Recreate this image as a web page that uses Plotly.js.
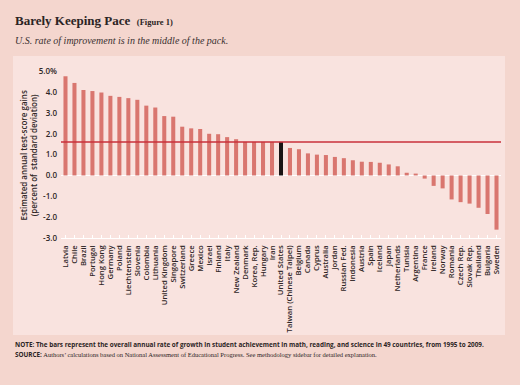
<!DOCTYPE html>
<html>
<head>
<meta charset="utf-8">
<script src="https://cdn.plot.ly/plotly-3.0.1.min.js"></script>
<style>
html,body{margin:0;padding:0;background:#f4d6ce;}
#chart{width:520px;height:385px;}
</style>
</head>
<body>
<div id="chart"></div>
<script>
const countries = ["Latvia","Chile","Brazil","Portugal","Hong Kong","Germany","Poland","Liechtenstein","Slovenia","Colombia","Lithuania","United Kingdom","Singapore","Switzerland","Greece","Mexico","Israel","Finland","Italy","New Zealand","Denmark","Korea, Rep.","Hungary","Iran","United States","Taiwan (Chinese Taipei)","Belgium","Canada","Cyprus","Australia","Jordan","Russian Fed.","Indonesia","Austria","Spain","Iceland","Japan","Netherlands","Tunisia","Argentina","France","Ireland","Norway","Romania","Czech Rep.","Slovak Rep.","Thailand","Bulgaria","Sweden"];
const gains = [4.76,4.44,4.10,4.05,3.98,3.82,3.77,3.71,3.63,3.35,3.26,2.85,2.82,2.34,2.26,2.23,2.00,1.98,1.84,1.74,1.61,1.61,1.61,1.61,1.61,1.32,1.26,1.06,1.00,0.98,0.89,0.83,0.73,0.66,0.65,0.61,0.53,0.44,0.13,0.09,-0.15,-0.50,-0.62,-1.15,-1.28,-1.35,-1.55,-1.85,-2.60];
const highlight = "United States";
const yTickVals = [-3,-2,-1,0,1,2,3,4,5];
const yTickText = ["-3.0","-2.0","-1.0","0.0","1.0","2.0","3.0","4.0","5.0%"];

const usValue = gains[countries.indexOf(highlight)];
const barColors = countries.map(c => c === highlight ? "#1a1414" : "#d9766f");

const L = 61, R = 19, T = 65, B = 147, W = 520, H = 385;
const pw = W - L - R, ph = H - T - B;
const px = x => (x - L) / pw;
const py = y => (H - B - y) / ph;

const sans = "Open Sans, sans-serif";
const serif = "Liberation Serif, serif";

const trace = {
  type: "bar",
  x: countries,
  y: gains,
  marker: {color: barColors},
  width: 0.45,
  hoverinfo: "x+y"
};

const layout = {
  width: W, height: H,
  margin: {l: L, r: R, t: T, b: B},
  paper_bgcolor: "#f4d6ce",
  plot_bgcolor: "rgba(0,0,0,0)",
  showlegend: false,
  xaxis: {
    type: "category",
    range: [-0.5, countries.length - 0.5],
    tickmode: "linear", tick0: 0, dtick: 1,
    tickangle: -90,
    tickfont: {family: sans, size: 7.7, color: "#2e2626", weight: 600},
    showgrid: false,
    showline: true, linecolor: "#ffffff", linewidth: 1.2,
    ticks: "inside", ticklen: 3, tickcolor: "#ffffff", tickwidth: 1,
    ticklabelstandoff: 3,
    anchor: "y", fixedrange: true
  },
  yaxis: {
    range: [-3, 5.3],
    tickvals: yTickVals, ticktext: yTickText,
    tickfont: {family: sans, size: 8, color: "#2e2626", weight: 600},
    showgrid: false,
    zeroline: true, zerolinecolor: "#ffffff", zerolinewidth: 1.5,
    ticks: "", ticklabelstandoff: 3,
    fixedrange: true
  },
  shapes: [
    {type: "rect", xref: "paper", yref: "paper", layer: "below",
     x0: px(13), x1: px(505), y0: py(335), y1: py(56),
     fillcolor: "#f9e3df", line: {width: 0}},
    {type: "line", xref: "paper", yref: "y", layer: "above",
     x0: 0, x1: 1, y0: usValue, y1: usValue,
     line: {color: "#c8313b", width: 1.5}}
  ],
  annotations: [
    {xref: "paper", yref: "paper", x: px(13), y: py(20), xanchor: "left", yanchor: "middle",
     showarrow: false, align: "left",
     text: "<b>Barely Keeping Pace</b>  <b><span style=\"font-size:8.5px\">(Figure 1)</span></b>",
     font: {family: serif, size: 13, color: "#2b2424"}},
    {xref: "paper", yref: "paper", x: px(13), y: py(40), xanchor: "left", yanchor: "middle",
     showarrow: false, align: "left",
     text: "<i>U.S. rate of improvement is in the middle of the pack.</i>",
     font: {family: serif, size: 10, color: "#3a3030"}},
    {xref: "paper", yref: "paper", x: px(27.5), y: py(156), xanchor: "center", yanchor: "middle",
     showarrow: false, textangle: -90, align: "center",
     text: "Estimated annual test-score gains<br>(percent of  standard deviation)",
     font: {family: sans, size: 8, color: "#2e2626", weight: 600}},
    {xref: "paper", yref: "paper", x: px(13), y: py(344.5), xanchor: "left", yanchor: "middle",
     showarrow: false, align: "left",
     text: "<b>NOTE: The bars represent the overall annual rate of growth in student achievement in math, reading, and science in 49 countries, from 1995 to 2009.</b>",
     font: {family: sans, size: 6.35, color: "#2b2424"}},
    {xref: "paper", yref: "paper", x: px(13), y: py(354.5), xanchor: "left", yanchor: "middle",
     showarrow: false, align: "left",
     text: "<b><span style=\"font-family:'Open Sans',sans-serif;font-size:6.35px\">SOURCE:</span></b> Authors\u2019 calculations based on National Assessment of Educational Progress. See methodology sidebar for detailed explanation.",
     font: {family: serif, size: 6.5, color: "#2b2424"}}
  ]
};

Plotly.newPlot("chart", [trace], layout, {displayModeBar: false, staticPlot: true});
</script>
</body>
</html>
